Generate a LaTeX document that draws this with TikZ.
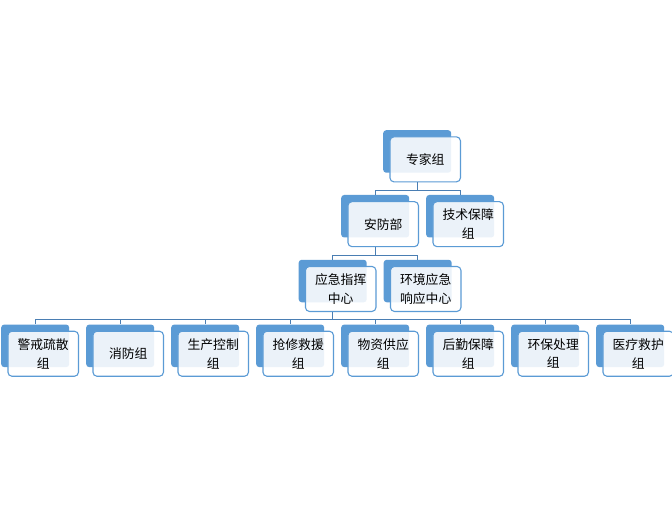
\documentclass[tikz,border=0pt]{standalone}
\usepackage{fontspec}
\setmainfont{Noto Sans CJK SC}
\usetikzlibrary{calc}
\definecolor{backblue}{HTML}{5B9BD5}
\definecolor{edgeblue}{HTML}{5B9BD5}
\definecolor{linkblue}{HTML}{4A7EB3}
\tikzset{
  backbox/.style={rectangle, rounded corners=3pt, fill=backblue, minimum width=68pt, minimum height=42.5pt, inner sep=0pt, anchor=north west},
  frontbox/.style={rectangle, rounded corners=4pt, draw=edgeblue, line width=1.1pt, fill=white, fill opacity=0.88, text opacity=1, minimum width=70.5pt, minimum height=45pt, inner sep=0pt, align=center, font=\fontsize{12.8pt}{18.5pt}\selectfont, anchor=north west},
  conn/.style={draw=linkblue, line width=0.9pt},
}
\newcommand\orgbox[4]{%
  \node[backbox] (#1b) at (#2pt,-#3pt) {};
  \node[frontbox] (#1) at (#2pt+6.4pt,-#3pt-6.3pt) {#4};
}
\newcommand\orglink[2]{%
  \draw[conn] (#1b |- #1.south) |- ([yshift=4.6pt]#2b.north) -- (#2b.north);
}
\begin{document}
\begin{tikzpicture}
\fill[white] (0,0) rectangle (672pt,-505pt);
\useasboundingbox (0,0) rectangle (672pt,-505pt);
\orgbox{zj}{383}{130}{专家组}
\orgbox{af}{341}{194.8}{安防部}
\orgbox{js}{426}{194.8}{技术保障\\组}
\orgbox{yj}{298.5}{259.6}{应急指挥\\中心}
\orgbox{hj}{383.5}{259.6}{环境应急\\响应中心}
\orgbox{c1}{1}{324.4}{警戒疏散\\组}
\orgbox{c2}{86}{324.4}{消防组}
\orgbox{c3}{171}{324.4}{生产控制\\组}
\orgbox{c4}{256}{324.4}{抢修救援\\组}
\orgbox{c5}{341}{324.4}{物资供应\\组}
\orgbox{c6}{426}{324.4}{后勤保障\\组}
\orgbox{c7}{511}{324.4}{环保处理\\组}
\orgbox{c8}{596}{324.4}{医疗救护\\组}
\orglink{zj}{af}
\orglink{zj}{js}
\orglink{af}{yj}
\orglink{af}{hj}
\foreach \c in {c1,c2,c3,c4,c5,c6,c7,c8}{\orglink{yj}{\c}}
\end{tikzpicture}
\end{document}
